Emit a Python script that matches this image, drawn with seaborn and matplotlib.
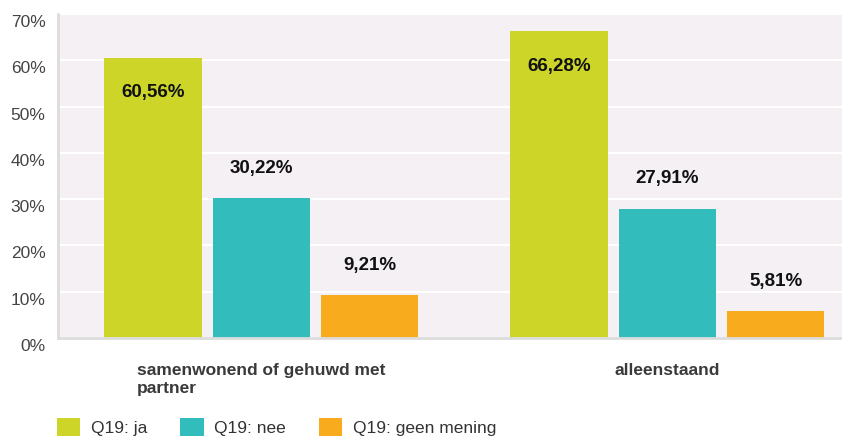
import matplotlib
matplotlib.use("Agg")
import matplotlib.pyplot as plt
import matplotlib.transforms as mtransforms
from matplotlib.patches import Patch
import pandas as pd
import seaborn as sns

# data
categories = ["samenwonend of gehuwd met\npartner", "alleenstaand"]
answers = ["Q19: ja", "Q19: nee", "Q19: geen mening"]
ja_values = [60.56, 66.28]
nee_values = [30.22, 27.91]
geen_values = [9.21, 5.81]
y_ticks = [0, 10, 20, 30, 40, 50, 60, 70]

colors = {"Q19: ja": "#CDD628", "Q19: nee": "#32BDBC", "Q19: geen mening": "#F8AC1D"}
# label for the first series sits inside the bar, the others above it
label_offsets = {"Q19: ja": -35, "Q19: nee": 30, "Q19: geen mening": 30}


def main() -> None:
    df = pd.DataFrame({
        "categorie": categories * 3,
        "antwoord": [answers[0]] * 2 + [answers[1]] * 2 + [answers[2]] * 2,
        "waarde": ja_values + nee_values + geen_values,
    })

    sns.set_theme(style="white")
    plt.rcParams["font.family"] = ["Liberation Sans", "DejaVu Sans"]

    fig = plt.figure(figsize=(8.42, 4.37), dpi=100)
    ax = fig.add_axes([58 / 842, 99 / 437, 1 - 58 / 842, 324 / 437])
    ax.set_facecolor("#F4F0F4")

    sns.barplot(
        data=df, x="categorie", y="waarde", hue="antwoord",
        hue_order=answers, palette=colors, width=0.8, gap=0.1,
        saturation=1, linewidth=0, ax=ax, legend=False, errorbar=None,
    )

    ax.set_ylim(0, 70)
    ax.set_xlim(-0.501, 1.43)
    ax.set_yticks(y_ticks)
    ax.set_yticklabels([f"{t}%" for t in y_ticks])
    ax.yaxis.grid(True, color="white", lw=1.5)
    ax.set_axisbelow(True)
    ax.set_xlabel("")
    ax.set_ylabel("")

    for name in ["top", "right"]:
        ax.spines[name].set_visible(False)
    for name in ["left", "bottom"]:
        ax.spines[name].set_color("#DCDCDC")
        ax.spines[name].set_linewidth(2)

    ax.tick_params(axis="y", length=0, pad=9, labelsize=12.5, labelcolor="#444444")
    ax.tick_params(axis="x", length=0, pad=18, labelsize=12.5, labelcolor="#3A3A3A")
    shift = mtransforms.ScaledTranslation(0, -7 / 100, fig.dpi_scale_trans)
    for lab in ax.get_yticklabels():
        lab.set_transform(lab.get_transform() + shift)
    for lab in ax.get_xticklabels():
        lab.set_fontweight("bold")
        lab.set_multialignment("left")
        lab.set_linespacing(1.25)

    for answer, container in zip(answers, ax.containers):
        for bar in container:
            h = bar.get_height()
            txt = f"{h:.2f}".replace(".", ",") + "%"
            ax.annotate(
                txt, (bar.get_x() + bar.get_width() / 2, h),
                xytext=(0, label_offsets[answer]), textcoords="offset pixels",
                ha="center", va="center", fontsize=13.5, fontweight="bold",
                color="#111111",
            )

    handles = [Patch(facecolor=colors[a], edgecolor="none", label=a) for a in answers]
    fig.legend(
        handles=handles, loc="upper left", bbox_to_anchor=(57 / 842, 19 / 437),
        ncol=3, frameon=False, fontsize=12.5, borderpad=0, borderaxespad=0,
        handlelength=1.35, handleheight=1.2, handletextpad=0.6, columnspacing=1.9,
        labelcolor="#333333",
    )

    fig.savefig("out.png", dpi=100)
    plt.close(fig)


if __name__ == "__main__":
    main()
